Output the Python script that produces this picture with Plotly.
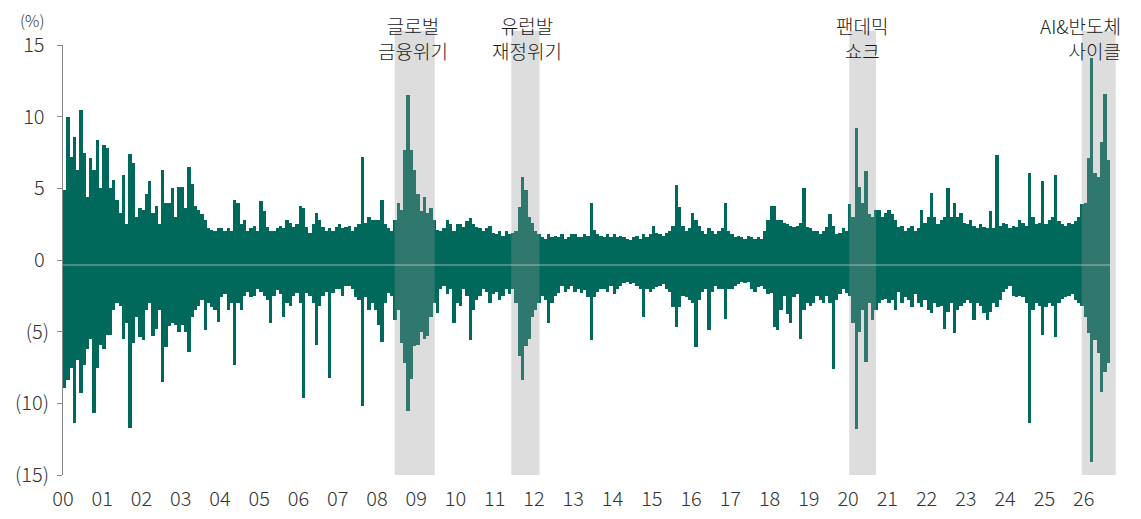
import plotly.graph_objects as go

# ---------------- data ----------------
year_labels = ["00", "01", "02", "03", "04", "05", "06", "07", "08", "09", "10", "11", "12", "13",
               "14", "15", "16", "17", "18", "19", "20", "21", "22", "23", "24", "25", "26"]

# monthly largest up-move (%) per year
month_max = [
    [4.9, 10.0, 7.2, 8.6, 6.3, 10.5, 7.5, 4.4, 7.1, 6.3, 8.4, 5.0],   # 2000
    [8.0, 7.8, 5.0, 5.6, 4.2, 3.3, 5.9, 2.5, 7.4, 6.8, 3.0, 3.6],     # 2001
    [3.5, 4.6, 5.5, 3.3, 3.8, 2.5, 6.3, 4.0, 4.0, 5.0, 3.0, 5.1],     # 2002
    [5.1, 3.6, 6.5, 5.3, 3.8, 3.5, 3.2, 2.8, 2.2, 2.1, 2.0, 2.2],     # 2003
    [2.2, 2.0, 2.2, 2.0, 4.2, 4.0, 2.5, 2.8, 2.0, 2.2, 2.4, 2.0],     # 2004
    [4.1, 3.4, 2.3, 2.0, 2.0, 2.2, 2.4, 2.2, 2.8, 2.6, 2.3, 2.5],     # 2005
    [3.8, 3.6, 2.3, 1.9, 2.5, 3.3, 2.8, 2.3, 2.0, 2.2, 2.0, 2.3],     # 2006
    [2.5, 2.2, 2.3, 2.4, 2.0, 2.3, 2.5, 7.2, 2.6, 3.0, 2.8, 2.8],     # 2007
    [2.8, 4.2, 2.5, 2.2, 2.0, 2.8, 4.0, 3.5, 7.7, 11.5, 7.7, 6.3],    # 2008
    [4.6, 3.4, 4.4, 3.3, 3.6, 2.8, 2.1, 2.0, 2.2, 2.8, 2.5, 2.0],     # 2009
    [2.5, 2.5, 2.3, 2.7, 2.9, 2.5, 2.3, 2.2, 2.0, 2.2, 2.4, 1.9],     # 2010
    [1.8, 2.0, 1.7, 2.0, 1.8, 1.9, 2.0, 3.7, 5.8, 4.9, 3.0, 2.6],     # 2011
    [2.0, 1.8, 1.6, 1.5, 1.8, 1.6, 1.7, 1.6, 1.8, 1.5, 1.6, 1.8],     # 2012
    [1.8, 1.6, 1.6, 1.8, 1.7, 4.0, 2.1, 1.8, 1.7, 1.6, 1.8, 1.6],     # 2013
    [1.8, 1.6, 1.7, 1.6, 1.5, 1.4, 1.6, 1.7, 1.5, 1.8, 1.6, 1.8],     # 2014
    [2.4, 1.9, 1.8, 1.7, 1.9, 2.0, 2.4, 5.2, 3.7, 2.4, 2.0, 2.2],     # 2015
    [3.3, 2.8, 2.4, 2.0, 1.8, 2.2, 2.0, 1.8, 2.0, 2.2, 4.0, 2.0],     # 2016
    [1.8, 1.6, 1.7, 1.6, 1.5, 1.7, 1.6, 1.5, 1.6, 1.5, 2.0, 2.8],     # 2017
    [3.8, 3.8, 2.8, 2.8, 2.6, 2.5, 2.4, 2.3, 2.4, 2.6, 5.0, 2.3],     # 2018
    [2.2, 2.0, 2.0, 1.8, 2.0, 2.3, 3.2, 2.4, 1.8, 1.9, 2.2, 2.0],     # 2019
    [3.9, 3.0, 9.2, 5.1, 4.0, 6.2, 3.2, 3.0, 3.5, 3.5, 3.0, 3.3],     # 2020
    [3.5, 3.2, 2.8, 2.3, 2.4, 2.0, 2.2, 2.4, 2.0, 2.2, 3.5, 2.6],     # 2021
    [3.0, 4.7, 3.0, 2.5, 2.8, 3.0, 5.0, 3.0, 4.0, 3.0, 3.3, 2.6],     # 2022
    [2.5, 2.8, 2.4, 2.2, 2.5, 2.3, 2.2, 3.4, 2.2, 7.3, 2.4, 2.6],     # 2023
    [2.5, 2.2, 2.4, 2.3, 2.8, 2.6, 2.4, 6.1, 3.0, 2.5, 2.6, 5.5],     # 2024
    [2.5, 2.8, 3.0, 5.9, 2.7, 2.5, 2.4, 2.6, 2.5, 2.7, 3.0, 3.9],     # 2025
    [4.0, 7.1, 14.1, 6.1, 5.8, 8.2, 11.6, 7.0],                       # 2026
]

# monthly largest down-move (%) per year
month_min = [
    [-8.9, -8.4, -7.5, -11.4, -7.0, -9.3, -7.3, -6.2, -5.5, -10.7, -7.5, -5.9],  # 2000
    [-6.2, -5.2, -5.2, -3.5, -3.0, -3.2, -5.5, -4.4, -11.7, -5.8, -4.0, -5.4],   # 2001
    [-5.6, -3.5, -3.0, -5.3, -4.8, -3.5, -8.5, -6.1, -4.6, -4.4, -4.5, -5.0],    # 2002
    [-4.5, -5.0, -6.4, -4.0, -3.5, -3.2, -2.8, -4.9, -3.0, -3.3, -3.5, -4.3],    # 2003
    [-2.6, -2.4, -3.5, -3.0, -7.3, -3.0, -3.5, -2.5, -2.2, -2.6, -2.5, -2.0],    # 2004
    [-2.2, -2.5, -2.8, -4.4, -2.5, -2.1, -2.4, -4.0, -3.0, -3.2, -2.5, -2.3],    # 2005
    [-3.0, -9.6, -2.3, -2.5, -3.0, -5.9, -3.2, -2.5, -2.2, -8.2, -2.3, -2.0],    # 2006
    [-2.0, -2.5, -1.8, -1.8, -2.0, -2.6, -2.8, -10.2, -2.6, -3.5, -3.0, -3.5],   # 2007
    [-4.5, -5.7, -3.0, -2.3, -2.5, -4.2, -3.5, -5.8, -7.2, -10.5, -8.3, -6.0],   # 2008
    [-5.9, -5.0, -5.5, -5.3, -4.0, -3.0, -3.7, -2.0, -1.8, -2.4, -2.0, -4.4],    # 2009
    [-3.0, -3.2, -2.0, -2.5, -5.6, -3.5, -2.8, -2.5, -2.0, -2.2, -3.0, -2.4],    # 2010
    [-2.2, -2.8, -2.5, -2.0, -2.4, -2.0, -3.0, -6.7, -8.4, -6.0, -5.5, -4.0],    # 2011
    [-3.5, -3.0, -2.5, -2.8, -4.4, -3.0, -2.5, -2.3, -1.8, -2.2, -2.0, -1.8],    # 2012
    [-2.2, -2.0, -2.3, -2.1, -2.6, -5.6, -2.6, -2.2, -2.0, -2.0, -2.2, -1.8],    # 2013
    [-2.4, -2.0, -1.8, -1.6, -1.5, -1.7, -1.6, -1.8, -2.0, -4.0, -2.0, -2.2],    # 2014
    [-2.0, -1.9, -1.8, -1.7, -2.0, -2.2, -3.3, -4.7, -3.3, -2.5, -2.6, -2.8],    # 2015
    [-3.0, -6.1, -2.8, -2.2, -2.0, -4.9, -2.2, -1.8, -2.0, -2.0, -4.1, -2.0],    # 2016
    [-2.0, -1.8, -1.7, -1.5, -1.6, -1.5, -2.0, -2.2, -1.9, -1.8, -2.0, -2.4],    # 2017
    [-2.3, -4.7, -4.9, -3.5, -2.5, -3.8, -4.4, -2.6, -2.4, -5.5, -3.5, -3.0],    # 2018
    [-3.2, -3.0, -2.5, -2.8, -3.0, -2.5, -3.0, -7.6, -2.8, -2.4, -2.0, -2.3],    # 2019
    [-2.5, -4.4, -11.8, -5.0, -3.5, -7.1, -3.0, -4.2, -3.5, -3.0, -2.8, -2.7],   # 2020
    [-3.0, -2.8, -3.5, -2.2, -3.0, -2.6, -2.8, -3.3, -2.4, -3.0, -3.3, -2.8],    # 2021
    [-3.5, -3.7, -3.0, -3.3, -3.2, -4.8, -3.6, -3.0, -5.1, -3.5, -3.2, -3.0],    # 2022
    [-2.8, -3.0, -4.2, -3.0, -3.2, -3.7, -4.2, -3.6, -3.0, -3.3, -2.8, -2.2],    # 2023
    [-2.0, -1.8, -2.5, -2.6, -2.5, -2.6, -3.0, -11.4, -3.5, -3.0, -3.2, -5.2],   # 2024
    [-3.3, -3.0, -3.2, -5.4, -3.0, -2.7, -2.6, -2.5, -2.4, -2.8, -3.0, -3.2],    # 2025
    [-4.0, -5.1, -14.1, -5.6, -6.5, -9.2, -7.8, -7.2],                            # 2026
]

# shaded episodes (in years since 2000)
crisis_names = ["글로벌<br>금융위기", "유럽발<br>재정위기", "팬데믹<br>쇼크", "AI&반도체<br>사이클"]
crisis_start = [8.45, 11.42, 20.03, 25.95]
crisis_end = [9.47, 12.14, 20.71, 26.82]

# ---------------- build ----------------
BAR = "#00695C"

mx, my_hi, my_lo = [], [], []
for yi, (hi, lo) in enumerate(zip(month_max, month_min)):
    for m in range(len(hi)):
        mx.append(yi + (m + 0.5) / 12)
        my_hi.append(hi[m])
        my_lo.append(lo[m])

fig = go.Figure()
for ys in (my_hi, my_lo):
    fig.add_trace(go.Bar(x=mx, y=ys, width=1 / 12, marker=dict(color=BAR, line=dict(width=0)),
                         showlegend=False))

shapes = []
for s, e in zip(crisis_start, crisis_end):
    shapes.append(dict(type="rect", xref="x", yref="paper", x0=s, x1=e, y0=0, y1=1.033,
                       fillcolor="rgba(150,150,150,0.32)", line=dict(width=0), layer="above"))
shapes.append(dict(type="line", xref="paper", yref="y", x0=0, x1=0.994, y0=-0.35, y1=-0.35,
                   line=dict(color="rgba(205,205,205,0.75)", width=1), layer="above"))

# The page body adds an 8px offset, so the figure's own margins are 8px smaller.
OFF = 8
PLOT_L, PLOT_T, PLOT_R, PLOT_B = 63, 45, 1117, 475     # target plot box on screen
PLOT_W = PLOT_R - PLOT_L
PLOT_H = PLOT_B - PLOT_T
X_MAX = 26.85

def px_x(px):
    return (px - PLOT_L) / PLOT_W

def px_y(py):
    return (PLOT_B - py) / PLOT_H

annotations = [dict(text="(%)", xref="paper", yref="paper", x=px_x(32), y=px_y(20),
                    showarrow=False, font=dict(size=16, color="#333333", weight=300),
                    xanchor="center", yanchor="middle")]
label_px = [413, 527, 862, 1123]
for name, px in zip(crisis_names, label_px):
    right = name.startswith("AI")
    annotations.append(dict(text=name, xref="paper", yref="paper", x=px_x(px), y=px_y(38),
                            showarrow=False,
                            xanchor="right" if right else "center", yanchor="middle",
                            align="right" if right else "center",
                            font=dict(size=19, color="#1a1a1a", weight=300)))

yvals = [15, 10, 5, 0, -5, -10, -15]
ytext = ["15\u00a0", "10\u00a0", "5\u00a0", "0\u00a0", "(5)", "(10)", "(15)"]

fig.update_layout(
    width=1141, height=519,
    margin=dict(l=PLOT_L - OFF, t=PLOT_T - OFF, r=1141 - (PLOT_R - OFF), b=519 - (PLOT_B - OFF),
                autoexpand=False),
    paper_bgcolor="white", plot_bgcolor="white",
    barmode="overlay", bargap=0,
    font=dict(family="Noto Sans CJK KR, Noto Sans, sans-serif", size=20, color="#333333"),
    shapes=shapes, annotations=annotations,
    xaxis=dict(range=[0, X_MAX], tickmode="array", tickvals=list(range(len(year_labels))),
               ticktext=year_labels, showgrid=False, zeroline=False, showline=False, ticks="",
               automargin=False, ticklabelstandoff=10,
               tickfont=dict(size=20, color="#333333", weight=300)),
    yaxis=dict(range=[-15, 15], tickmode="array", tickvals=yvals, ticktext=ytext,
               showgrid=False, zeroline=False, showline=True, linecolor="#888888", linewidth=1,
               ticks="outside", ticklen=5, tickcolor="#888888", ticklabelstandoff=4,
               automargin=False, tickfont=dict(size=20, color="#333333", weight=300)),
)

fig.write_html("out.html")
